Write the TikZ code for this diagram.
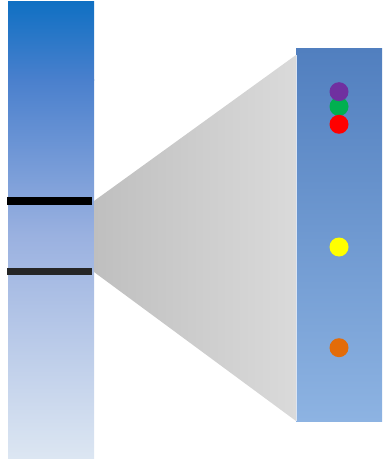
\documentclass[tikz,border=0pt]{standalone}
\usetikzlibrary{shadings}
\definecolor{lbtop}{HTML}{1070C3}
\definecolor{lbq}{HTML}{4A80CD}
\definecolor{lbmid}{HTML}{9AB1E0}
\definecolor{lbbot}{HTML}{DCE6F2}
\definecolor{rbtop}{HTML}{517FBF}
\definecolor{rbbot}{HTML}{8DB3E2}
\definecolor{trL}{HTML}{BFBFBF}
\definecolor{trR}{HTML}{DADADA}
\definecolor{band2}{HTML}{262626}
\definecolor{dpurple}{HTML}{7030A0}
\definecolor{dgreen}{HTML}{00B050}
\definecolor{dred}{HTML}{FF0000}
\definecolor{dyellow}{HTML}{FFFF00}
\definecolor{dorange}{HTML}{E36C09}
\begin{document}
\begin{tikzpicture}[x=1pt,y=-1pt,
  dot/.style={circle,minimum size=19pt,inner sep=0pt,draw=none}]
\useasboundingbox (0,0) rectangle (382,462);
% left gel lane
\shade[top color=lbtop,bottom color=lbq] (8,2) rectangle (94,80.5);
\shade[top color=lbq,bottom color=lbmid] (8,80) rectangle (94,235.5);
\shade[top color=lbmid,bottom color=lbbot] (8,235) rectangle (94,458);
% bands
\fill[black] (7,197) rectangle (92,204.5);
\fill[band2] (7,267.5) rectangle (92,275);
% zoom trapezoid
\shade[left color=trL,right color=trR] (94,201) -- (296,55) -- (296,421) -- (94,272) -- cycle;
% right zoomed lane
\shade[top color=rbtop,bottom color=rbbot] (296,49) rectangle (382,421);
\draw[white!80!rbtop,line width=1pt] (296.5,55) -- (296.5,421);
% spots
\node[dot,fill=dgreen] (g) at (339,106.5) {};
\node[dot,fill=dpurple] (p) at (339,91.7) {};
\node[dot,fill=dred] (r) at (339,124.3) {};
\node[dot,fill=dyellow] (y) at (339,247) {};
\node[dot,fill=dorange] (o) at (339,347.7) {};
\end{tikzpicture}
\end{document}
